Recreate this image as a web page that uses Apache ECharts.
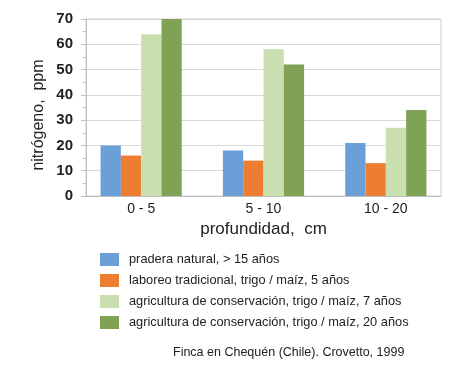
<!DOCTYPE html>
<html><head><meta charset="utf-8">
<script src="https://cdn.jsdelivr.net/npm/echarts@6/dist/echarts.min.js"></script>
<style>html,body{margin:0;padding:0;background:#fff}#c{width:454px;height:379px}</style>
</head><body><div id="c"></div>
<script>
const categories = ['0 - 5', '5 - 10', '10 - 20'];
const seriesNames = [
  'pradera natural, > 15 años',
  'laboreo tradicional, trigo / maíz, 5 años',
  'agricultura de conservación, trigo / maíz, 7 años',
  'agricultura de conservación, trigo / maíz, 20 años'
];
const praderaNatural = [20, 18, 21];
const laboreoTradicional = [16, 14, 13];
const conservacion7 = [64, 58, 27];
const conservacion20 = [70, 52, 34];
const yTicks = [0, 10, 20, 30, 40, 50, 60, 70];
const colors = ['#6a9fd8', '#ed7d31', '#cadfb0', '#80a254'];
const values = [praderaNatural, laboreoTradicional, conservacion7, conservacion20];

const chart = echarts.init(document.getElementById('c'));
const font = '"Liberation Sans", Arial, sans-serif';
const yMin = yTicks[0], yMax = yTicks[yTicks.length - 1];
chart.setOption({
  animation: false,
  backgroundColor: '#fff',
  textStyle: { fontFamily: font },
  grid: [
    { left: 86, right: 13, top: 19, bottom: 183, show: true, borderColor: '#d0d0d0', borderWidth: 1 },
    { left: 80, right: 7, top: 19, bottom: 183 }
  ],
  legend: {
    orient: 'vertical', left: 95, top: 248, itemWidth: 19, itemHeight: 13, itemGap: 8,
    icon: 'rect', selectedMode: false,
    textStyle: { fontSize: 12.8, color: '#222', fontFamily: font, padding: [0, 0, 0, 5] },
    data: seriesNames
  },
  xAxis: [{
    gridIndex: 0, type: 'category', data: categories,
    axisLine: { lineStyle: { color: '#bfbfbf' } },
    axisTick: { show: false }, axisLabel: { show: false }
  }, {
    gridIndex: 1, type: 'category', data: categories,
    axisLine: { show: false }, axisTick: { show: false },
    axisLabel: { fontSize: 14, color: '#222', margin: 6 },
    name: 'profundidad,  cm', nameLocation: 'middle', nameGap: 25,
    nameTextStyle: { fontSize: 17, color: '#222' }
  }],
  yAxis: [{
    gridIndex: 0, type: 'value', min: yMin, max: yMax, interval: 10,
    axisLine: { show: true, lineStyle: { color: '#bfbfbf' } },
    axisTick: { show: true, length: 5, lineStyle: { color: '#bfbfbf' } },
    minorTick: { show: true, splitNumber: 2, length: 3, lineStyle: { color: '#bfbfbf' } },
    splitLine: { lineStyle: { color: '#d9d9d9' } },
    axisLabel: { fontSize: 15, fontWeight: 'bold', color: '#222', margin: 13 }
  }, {
    gridIndex: 1, type: 'value', min: yMin, max: yMax, show: false,
    splitLine: { show: false }
  }],
  graphic: [{
    type: 'text', x: 39, y: 115, rotation: Math.PI / 2,
    style: { text: 'nitrógeno,  ppm', font: '16px ' + font, fill: '#222', align: 'center', verticalAlign: 'middle' }
  }, {
    type: 'text', left: 173, top: 346,
    style: { text: 'Finca en Chequén (Chile). Crovetto, 1999', font: '12.5px ' + font, fill: '#222' }
  }],
  series: seriesNames.map((n, i) => ({
    name: n, type: 'bar', data: values[i], barWidth: 20.3, barGap: '0%',
    xAxisIndex: 1, yAxisIndex: 1,
    itemStyle: { color: colors[i] }
  }))
});
</script></body></html>
